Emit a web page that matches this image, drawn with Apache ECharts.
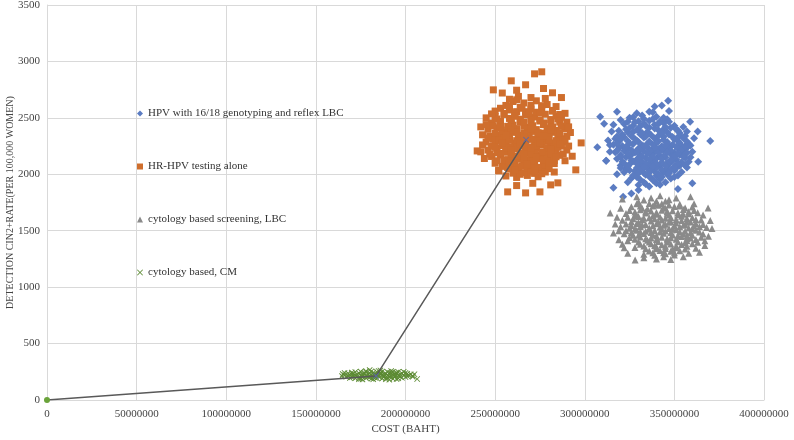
<!DOCTYPE html>
<html><head><meta charset="utf-8">
<script src="https://cdn.jsdelivr.net/npm/echarts@6/dist/echarts.min.js"></script>
<style>html,body{margin:0;padding:0;background:#fff}#c{width:794px;height:440px}</style>
</head><body><div id="c"></div>
<script>
// x values in millions of baht, y = detection CIN2+ rate per 100,000 women
const seriesNames = ["HPV with 16/18 genotyping and reflex LBC","HR-HPV testing alone","cytology based screening, LBC","cytology based, CM"];
const xTicks = [0,50000000,100000000,150000000,200000000,250000000,300000000,350000000,400000000];
const yTicks = [0,500,1000,1500,2000,2500,3000,3500];

const hpvGenotyping = [
[327,2505],[333,2492],[340,2510],[346,2488],
[322,2445],[327,2432],[333,2450],[339,2438],[344,2455],[350,2430],
[319,2385],[324,2372],[330,2390],[335,2378],[341,2392],[346,2375],[352,2388],
[317,2315],[322,2328],[328,2312],[333,2325],[339,2318],[344,2332],[350,2310],[355,2322],
[316,2262],[321,2250],[327,2268],[332,2255],[338,2265],[343,2248],[349,2262],[354,2252],[358,2268],
[317,2195],[322,2208],[328,2192],[333,2205],[339,2198],[344,2212],[350,2190],[355,2202],
[318,2138],[323,2150],[329,2132],[334,2145],[340,2140],[345,2152],[351,2130],[356,2146],
[320,2078],[325,2090],[331,2072],[336,2085],[342,2080],[347,2092],[353,2075],
[322,2018],[328,2030],[333,2012],[339,2025],[344,2020],[350,2032],
[326,1965],[331,1952],[337,1968],[342,1955],[348,1962],
[330,1905],[336,1892],[342,1908],
[330,2470],[336,2475],[342,2468],[325,2410],[336,2415],[348,2412],[321,2350],[331,2355],[337,2348],[347,2352],[353,2345],
[319,2290],[324,2295],[330,2285],[341,2292],[346,2285],[352,2295],[357,2290],
[319,2230],[324,2235],[330,2228],[335,2238],[341,2225],[347,2232],[352,2228],[357,2235],
[320,2170],[326,2175],[331,2168],[337,2172],[342,2165],[348,2178],[353,2170],
[321,2110],[327,2115],[332,2108],[338,2112],[343,2105],[349,2118],[354,2108],
[323,2050],[329,2055],[335,2048],[340,2058],[346,2050],[351,2055],
[327,1990],[334,1995],[340,1988],[346,1998],[333,1930],[339,1935],
[313,2300],[314,2200],[312,2120],[360,2200],[359,2150],[361,2320],[316,2440],[355,2420],[356,2080],[318,2000],[352,1990],[324,1930],[345,1930],
[329,2540],[338,2550],[347,2560],[320,2480],[357,2060],
[346.5,2651],[308.6,2509],[310.8,2447],[370,2296],[363.3,2110],[311.9,2119],[321.4,1800],[358.8,2465],[339,2600],[343,2610],
[318,2555],[326,1830],[330,1860],[360,1920],[352,1870],[363,2380],[307,2240],[316,1880],
[332,2520],[338,2490],[344,2500],[328,2460],[334,2430],[341,2445],[347,2465],[323,2400],[329,2395],[339,2405],[344,2398],[351,2400],
[318,2335],[326,2340],[334,2335],[341,2340],[349,2330],[356,2340],[318,2270],[325,2275],[335,2270],[340,2278],[346,2272],[353,2278],
[318,2210],[326,2215],[331,2218],[337,2212],[343,2220],[348,2210],[354,2218],[320,2150],[325,2160],[332,2155],[338,2158],[344,2162],
[350,2155],[355,2160],[322,2095],[329,2095],[334,2098],[340,2095],[346,2100],[352,2095],[325,2035],[331,2040],[337,2035],[343,2040],
[348,2040],[329,1975],[336,1980],[343,1975],[350,1975],[334,1915],[340,1920],[315,2380],[314,2260],[357,2380],[359,2255],[358,2110],
[320,2055],[354,2020],[336,2555],[325,2500],
[324,2465],[331,2425],[345,2420],[353,2365],[320,2310],[329,2300],[336,2290],[344,2305],[351,2315],[323,2245],[333,2250],[339,2240],
[345,2255],[351,2245],[356,2250],[324,2185],[329,2200],[335,2185],[341,2190],[346,2195],[352,2182],[357,2190],[326,2125],[330,2140],
[336,2130],[343,2135],[348,2128],[324,2070],[333,2065],[338,2070],[345,2075],[350,2070],[330,2010],[336,2015],[341,2005],[347,2010],
[338,1950],[332,2365],[343,2365],[327,2375]
];

const hrHpvAlone = [
[260,2645],[266,2632],[273,2651],[279,2618],
[253,2585],[258,2570],[264,2592],[270,2578],[276,2588],[282,2566],
[250,2512],[255,2530],[261,2518],[267,2526],[272,2508],[278,2532],[284,2515],
[248,2455],[253,2470],[259,2448],[264,2466],[270,2458],[275,2472],[281,2450],[286,2462],
[246,2398],[251,2412],[257,2392],[262,2405],[268,2415],[273,2396],[279,2408],[284,2390],[289,2402],
[247,2335],[252,2348],[258,2332],[263,2345],[269,2338],[274,2352],[280,2330],[285,2344],[290,2336],
[245,2285],[250,2272],[256,2290],[261,2276],[267,2284],[272,2270],[278,2292],[283,2278],[288,2286],
[246,2215],[251,2228],[257,2212],[262,2225],[268,2218],[273,2232],[279,2210],[284,2222],[290,2215],
[248,2158],[253,2170],[259,2152],[264,2165],[270,2160],[275,2172],[281,2150],[286,2168],
[250,2098],[255,2110],[261,2092],[266,2105],[272,2100],[277,2112],[283,2095],
[252,2035],[258,2048],[263,2030],[269,2045],[275,2038],[280,2050],
[256,1985],[262,1972],[268,1990],[274,1978],
[256,2610],[270,2612],[262,2555],[273,2550],[251,2490],[258,2495],[270,2490],[281,2485],
[249,2430],[260,2435],[266,2428],[277,2440],[287,2425],[254,2370],[260,2375],[266,2368],[271,2380],[277,2365],[282,2372],
[249,2310],[255,2318],[265,2305],[271,2312],[276,2300],[287,2315],
[248,2248],[254,2255],[259,2245],[265,2252],[270,2242],[276,2258],[281,2246],[287,2250],
[251,2190],[256,2195],[267,2188],[272,2198],[278,2185],[283,2192],
[257,2130],[263,2135],[268,2128],[274,2138],[279,2125],[254,2070],[265,2075],[271,2068],[277,2078],
[260,2010],[266,2015],[272,2008],[278,2020],
[243,2350],[242,2420],[291,2250],[292,2370],[244,2140],[289,2120],[250,2560],[284,2600],[252,2030],[283,2020],
[263,2690],[270,2680],[258,2665],[278,2672],[289,2540],[287,2505],[245,2500],[243,2260],
[272,2890],[276,2908],[259,2828],[267,2793],[249,2748],[282,2722],[240,2207],[242,2199],[298,2278],[295,2039],
[257,1844],[267,1835],[275,1844],[281,1906],[285,1924],[262,1900],[271,1920],[290,2460],[287,2680],[254,2720],
[277,2760],[262,2745],[293,2160],
[255,2540],[261,2545],[267,2555],[275,2545],[259,2480],[264,2488],[275,2482],[285,2490],[253,2420],[257,2425],[271,2430],[282,2420],
[250,2365],[257,2360],[262,2372],[268,2358],[274,2368],[280,2360],[286,2368],[252,2300],[258,2305],[262,2298],[268,2310],[274,2295],
[280,2305],[284,2298],[250,2240],[256,2235],[262,2245],[267,2238],[273,2248],[279,2235],[285,2240],[253,2185],[259,2180],[264,2190],
[270,2182],[276,2195],[281,2178],[255,2125],[260,2120],[266,2140],[271,2118],[277,2130],[283,2122],[257,2060],[262,2065],[268,2058],
[274,2062],[280,2075],[264,2000],[270,2020],[276,2005],[258,2600],[265,2585],[276,2608],[262,2660],[248,2535],[245,2440],[246,2320],
[247,2180],[288,2180],[289,2300],[291,2420],[251,2120],[282,2560],[286,2530],
[259,2390],[270,2400],[281,2395],[256,2345],[266,2330],[277,2340],[254,2275],[264,2270],[275,2280],[286,2270],[259,2215],[270,2230],
[281,2220],[262,2160],[273,2150],[284,2155],[258,2100],[268,2090],[280,2100],[261,2040],[272,2030],[266,2460],[277,2455],[261,2515],
[269,2540]
];

const cytologyLBC = [
[333,1772],[340,1760],[347,1775],
[326,1712],[332,1700],[338,1718],[344,1705],[350,1715],[356,1702],
[323,1652],[328,1640],[334,1658],[340,1645],[346,1655],[352,1642],[358,1650],[363,1660],
[321,1592],[326,1580],[332,1598],[337,1585],[343,1595],[348,1582],[354,1590],[359,1578],[365,1595],
[320,1535],[325,1522],[331,1538],[336,1525],[342,1532],[347,1520],[353,1535],[358,1525],[364,1538],[368,1528],
[322,1472],[327,1460],[333,1475],[338,1465],[344,1478],[349,1462],[355,1472],[360,1460],[366,1470],
[324,1412],[330,1400],[335,1415],[341,1405],[346,1418],[352,1402],[357,1410],[363,1398],
[328,1352],[334,1340],[340,1355],[345,1342],[351,1350],[356,1338],
[333,1292],[339,1282],[345,1295],[350,1285],
[329,1740],[336,1742],[343,1738],[353,1735],[325,1680],[331,1685],[337,1675],[343,1682],[349,1678],[355,1688],[361,1680],
[324,1620],[330,1625],[336,1615],[342,1622],[348,1618],[354,1628],[360,1615],
[323,1560],[329,1565],[334,1555],[340,1562],[345,1558],[351,1568],[356,1555],[362,1565],
[323,1500],[329,1505],[334,1495],[339,1502],[345,1498],[351,1508],[356,1495],[362,1505],
[325,1440],[331,1445],[337,1435],[343,1442],[348,1438],[354,1448],[359,1435],[365,1442],
[331,1380],[337,1385],[343,1375],[348,1382],[354,1378],[360,1385],
[336,1320],[342,1325],[348,1318],[353,1322],
[314.2,1658],[368.8,1702],[328.1,1241],[318,1620],[317,1560],[370,1590],[369,1450],[319,1420],[322,1350],[362,1345],
[367,1370],[340,1250],[348,1245],[355,1270],[333,1260],[329,1800],[342,1810],[351,1790],[361,1740],[359,1800],
[321,1780],[316,1480],[371,1520],[364,1310],[324,1300],
[337,1790],[345,1760],[331,1720],[341,1725],[347,1728],[353,1720],[328,1665],[334,1668],[340,1662],[346,1670],[352,1660],[358,1668],
[327,1605],[333,1610],[339,1605],[345,1610],[351,1600],[357,1608],[362,1600],[326,1545],[332,1550],[338,1545],[344,1548],[350,1545],
[355,1548],[361,1545],[366,1555],[326,1485],[331,1490],[337,1485],[342,1488],[348,1485],[353,1490],[359,1485],[364,1488],[328,1425],
[334,1428],[340,1422],[346,1428],[351,1425],[357,1428],[362,1422],[333,1365],[339,1368],[345,1362],[351,1365],[357,1362],[338,1305],
[344,1305],[350,1305],[320,1700],[319,1500],[367,1410],[366,1640],[321,1380],[360,1710],[344,1270],[358,1300],
[330,1755],[339,1735],[345,1700],[335,1695],[329,1632],[338,1630],[347,1640],[355,1645],[330,1575],[341,1578],[347,1575],[357,1578],
[328,1515],[336,1512],[343,1515],[349,1520],[360,1520],[330,1460],[340,1455],[352,1458],[357,1455],[336,1400],[346,1400],[356,1395],
[340,1340],[349,1338]
];

const cytologyCM = [
[172,248],[175,252],[178,246],[181,254],[184,249],[187,252],[190,247],[193,251],[196,249],
[168,236],[171,232],[174,238],[177,233],[180,237],[183,231],[186,236],[189,234],[192,239],[195,232],[198,236],[201,233],
[166,220],[169,224],[172,218],[175,222],[178,217],[181,223],[184,219],[187,221],[190,216],[193,224],[196,218],[199,222],[202,219],
[167,206],[170,202],[173,208],[176,203],[179,207],[182,201],[185,206],[188,204],[191,209],[194,202],[197,207],[200,203],
[172,192],[175,188],[178,194],[181,189],[184,193],[187,190],[190,195],[193,188],[196,192],
[165,230],[164.6,212],[204,215],[205,228],[186,262],[180,265],[191,180],[176,182],[206.5,186],
[170,243],[173,226],[176,212],[179,229],[182,243],[185,214],[188,228],[191,241],[194,211],[197,227],[200,240],[171,212],
[174,197],[177,241],[180,213],[183,198],[186,244],[189,198],[192,213],[195,244],[198,197],[201,212],[168,214],[203,227],
[178,256],[185,257],[192,256],[174,184],[182,183],[189,184],[195,185],[166,240],[169,196],[204,205],[199,250],[170,228],
[176,225],[182,227],[188,215],[194,229],[180,200],[186,224]
];

// frontier line (mean points)
const frontier = [[0,0],[183.6,213],[267.3,2305]];

const M = 1e6;
const toRaw = arr => arr.map(p => [p[0]*M, p[1]]);

const serif = '"Liberation Serif","Times New Roman",serif';
const xShape = 'path://M1,0L5,4L9,0L10,1L6,5L10,9L9,10L5,6L1,10L0,9L4,5L0,1Z';
const colors = ['#5b7cc2','#cf6e2d','#8a8a8a','#5b8a32'];

const chart = echarts.init(document.getElementById('c'), null, {renderer:'canvas'});
chart.setOption({
  animation:false,
  grid:{left:47,right:30,top:5,bottom:40,containLabel:false,outerBoundsMode:'none'},
  legend:{
    orient:'vertical', left:132, top:103, itemGap:42,
    itemWidth:6, itemHeight:6,
    textStyle:{fontFamily:serif,fontSize:11,color:'#333'},
    data:[
      {name:seriesNames[0],icon:'diamond'},
      {name:seriesNames[1],icon:'rect'},
      {name:seriesNames[2],icon:'triangle'},
      {name:seriesNames[3],icon:xShape}
    ]
  },
  xAxis:{
    type:'value', min:xTicks[0], max:xTicks[xTicks.length-1], interval:xTicks[1]-xTicks[0],
    name:'COST (BAHT)', nameLocation:'middle', nameGap:24, nameMoveOverlap:false,
    nameTextStyle:{fontFamily:serif,fontSize:11,color:'#444'},
    axisLine:{show:true,lineStyle:{color:'#d9d9d9'}},
    axisTick:{show:false},
    axisLabel:{fontFamily:serif,fontSize:11,color:'#444',margin:9,formatter:v=>String(v)},
    splitLine:{show:true,lineStyle:{color:'#d9d9d9'}}
  },
  yAxis:{
    type:'value', min:yTicks[0], max:yTicks[yTicks.length-1], interval:yTicks[1]-yTicks[0],
    name:'DETECTION CIN2+RATE(PER 100,000 WOMEN)', nameLocation:'middle', nameGap:32, nameMoveOverlap:false,
    nameTextStyle:{fontFamily:serif,fontSize:10,color:'#444'},
    axisLine:{show:true,lineStyle:{color:'#d9d9d9'}},
    axisTick:{show:false},
    axisLabel:{fontFamily:serif,fontSize:11,color:'#444',margin:7,formatter:v=>String(v)},
    splitLine:{show:true,lineStyle:{color:'#d9d9d9'}}
  },
  series:[
    {name:seriesNames[0],type:'scatter',symbol:'diamond',symbolSize:8,itemStyle:{color:colors[0],opacity:1},data:toRaw(hpvGenotyping)},
    {name:seriesNames[1],type:'scatter',symbol:'rect',symbolSize:7,itemStyle:{color:colors[1],opacity:1},data:toRaw(hrHpvAlone)},
    {name:seriesNames[2],type:'scatter',symbol:'triangle',symbolSize:7,itemStyle:{color:colors[2],opacity:1},data:toRaw(cytologyLBC)},
    {name:seriesNames[3],type:'scatter',symbol:xShape,symbolSize:6,itemStyle:{color:colors[3],opacity:1},data:toRaw(cytologyCM)},
    {name:'frontier',type:'line',z:5,lineStyle:{color:'#595959',width:1.5},
     data:toRaw(frontier).map((p,i)=>({value:p,symbol:i===0?'circle':xShape,symbolSize:6,
       itemStyle:{color:i===0?'#6aa33a':'#5a6aa8'}})),
     showSymbol:true}
  ]
});
</script></body></html>
